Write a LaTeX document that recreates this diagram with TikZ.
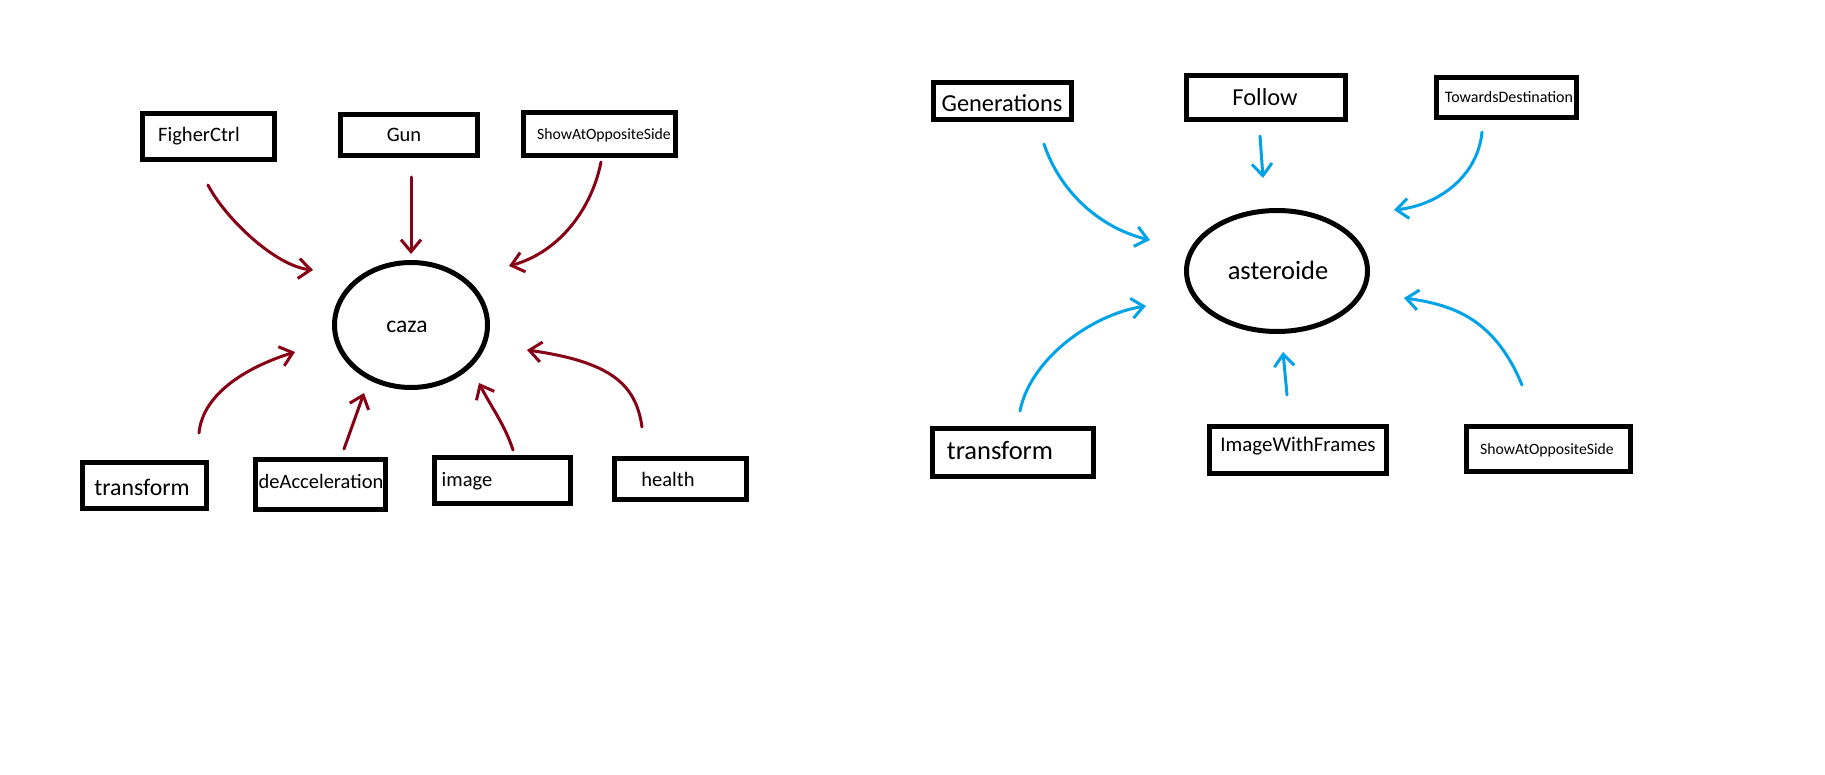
\documentclass[tikz,border=0pt]{standalone}
\usepackage{fontspec}
\setmainfont{Carlito}
\usetikzlibrary{arrows.meta,shapes.geometric}
\definecolor{pred}{HTML}{880015}
\definecolor{pblue}{HTML}{00A2E8}
\tikzset{
  boxn/.style={draw=black, line width=5pt, inner sep=0pt, rectangle},
  ell/.style={draw=black, line width=5pt, inner sep=0pt, ellipse},
  lbl/.style={inner sep=0pt, font=\fontsize{20.5}{24}\selectfont},
  lblbig/.style={inner sep=0pt, font=\fontsize{24.4}{28}\selectfont},
  lblhuge/.style={inner sep=0pt, font=\fontsize{26.5}{30}\selectfont},
  lblsmall/.style={inner sep=0pt, font=\fontsize{15.7}{18}\selectfont},
  redarr/.style={draw=pred, line width=3pt, line cap=round, line join=round, -{Straight Barb[length=12pt,width=20pt,line width=3pt]}},
  bluearr/.style={draw=pblue, line width=3pt, line cap=round, line join=round, -{Straight Barb[length=12pt,width=20pt,line width=3pt]}}
}
\begin{document}
\begin{tikzpicture}[x=1pt,y=-1pt]
\fill[white] (0,0) rectangle (1825,775);
\useasboundingbox (0,0) rectangle (1825,775);

% ---------- left diagram ----------
\node[ell, minimum width=153pt, minimum height=125pt] (caza) at (411,325) {};
\node[lbl, font=\fontsize{23.5}{28}\selectfont] (cazat) at (407,327) {caza};

\node[boxn, minimum width=132pt, minimum height=46pt] (fig) at (208.5,136.5) {};
\node[lbl] (figt) at (199,136) {FigherCtrl};
\node[boxn, minimum width=137pt, minimum height=41pt] (gun) at (409,135) {};
\node[lbl] (gunt) at (404,135) {Gun};
\node[boxn, minimum width=152pt, minimum height=43pt] (showl) at (599.5,134) {};
\node[lblsmall] (showlt) at (604,135) {ShowAtOppositeSide};

\node[boxn, minimum width=124pt, minimum height=46pt] (trl) at (144.5,485.5) {};
\node[lbl, font=\fontsize{23.8}{28}\selectfont] (trlt) at (142,487) {transform};
\node[boxn, minimum width=130pt, minimum height=50pt] (deacc) at (320.5,484.5) {};
\node[lbl] (deacct) at (321,481) {deAcceleration};
\node[boxn, minimum width=136pt, minimum height=46pt] (img) at (502.5,480.5) {};
\node[lbl] (imgt) at (467,481) {image};
\node[boxn, minimum width=132pt, minimum height=41pt] (hea) at (680.5,479) {};
\node[lbl] (heat) at (668,479) {health};

\coordinate (a1s) at (208,185);  \coordinate (a1e) at (313,270);
\coordinate (a2s) at (411,177);  \coordinate (a2e) at (411,254);
\coordinate (a3s) at (601,162);  \coordinate (a3e) at (509,266);
\coordinate (a4s) at (199,433);  \coordinate (a4e) at (295,352);
\coordinate (a5s) at (344,449);  \coordinate (a5e) at (364,393);
\coordinate (a6s) at (513,450);  \coordinate (a6e) at (479,383);
\coordinate (a7s) at (642,427);  \coordinate (a7e) at (527,350);

\draw[redarr] (a1s) .. controls (225,218) and (275,266) .. (a1e);
\draw[redarr] (a2s) -- (a2e);
\draw[redarr] (a3s) .. controls (592,208) and (560,252) .. (a3e);
\draw[redarr] (a4s) .. controls (203,392) and (250,366) .. (a4e);
\draw[redarr] (a5s) -- (a5e);
\draw[redarr] (a6s) .. controls (505,425) and (490,405) .. (a6e);
\draw[redarr] (a7s) .. controls (636,385) and (612,362) .. (a7e);

% ---------- right diagram ----------
\node[ell, minimum width=181pt, minimum height=121pt] (ast) at (1277,271) {};
\node[lblhuge] (astt) at (1278,270) {asteroide};

\node[boxn, minimum width=138pt, minimum height=37pt] (gen) at (1002.5,101) {};
\node[lblbig] (gent) at (1002,103) {Generations};
\node[boxn, minimum width=159pt, minimum height=44pt] (fol) at (1266,97.5) {};
\node[lblbig] (folt) at (1265,97.5) {Follow};
\node[boxn, minimum width=140pt, minimum height=40pt] (tow) at (1506.5,97.5) {};
\node[lblsmall, font=\fontsize{16}{19}\selectfont] (towt) at (1509,97) {TowardsDestination};

\node[boxn, minimum width=161pt, minimum height=48pt] (trr) at (1013,452.5) {};
\node[lblhuge] (trrt) at (1000,451) {transform};
\node[boxn, minimum width=177pt, minimum height=47pt] (iwf) at (1298,450) {};
\node[lbl, font=\fontsize{20.9}{24}\selectfont] (iwft) at (1298,446) {ImageWithFrames};
\node[boxn, minimum width=164pt, minimum height=45pt] (showr) at (1548.5,449) {};
\node[lblsmall] (showrt) at (1547,450) {ShowAtOppositeSide};

\coordinate (b1s) at (1044,144);  \coordinate (b1e) at (1150,240);
\coordinate (b2s) at (1260,136);  \coordinate (b2e) at (1263,178);
\coordinate (b3s) at (1482,132);  \coordinate (b3e) at (1394,210);
\coordinate (b4s) at (1020,411);  \coordinate (b4e) at (1146,306);
\coordinate (b5s) at (1287,395);  \coordinate (b5e) at (1283,352);
\coordinate (b6s) at (1522,385);  \coordinate (b6e) at (1404,298);

\draw[bluearr] (b1s) .. controls (1060,192) and (1100,228) .. (b1e);
\draw[bluearr] (b2s) -- (b2e);
\draw[bluearr] (b3s) .. controls (1478,175) and (1440,205) .. (b3e);
\draw[bluearr] (b4s) .. controls (1030,360) and (1090,315) .. (b4e);
\draw[bluearr] (b5s) -- (b5e);
\draw[bluearr] (b6s) .. controls (1495,320) and (1455,305) .. (b6e);
\end{tikzpicture}
\end{document}
